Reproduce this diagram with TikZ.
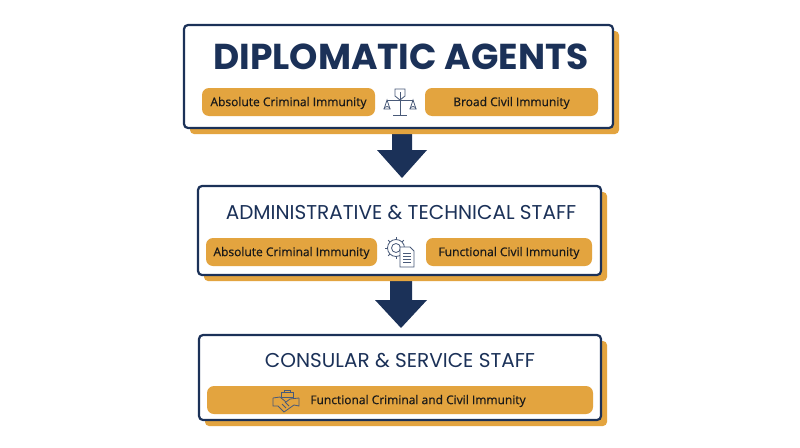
\documentclass[tikz,border=0pt]{standalone}
\usepackage{fontspec}
\usetikzlibrary{calc}
\setmainfont{Poppins}
\newfontfamily\pillfont{Open Sans}[FakeBold=0.6]
\begin{document}
\begin{tikzpicture}[x=1pt,y=-1pt,
  box/.style={draw=navycol,line width=2.2pt,fill=white,rounded corners=4pt},
  shadowbox/.style={fill=orangecol,rounded corners=4pt},
  pill/.style={fill=orangecol,rounded corners=7pt},
  pilltext/.style={font=\pillfont\fontsize{12}{14}\selectfont,text=black!90},
  subtitle/.style={font=\fontsize{20}{24}\selectfont,text=navycol},
  arr/.style={fill=navycol},
  icon/.style={draw=navycol!80,line width=0.8pt}]
\definecolor{navycol}{HTML}{1B3158}
\definecolor{orangecol}{HTML}{E3A43F}
\useasboundingbox (0,0) rectangle (800,447);
\fill[white] (0,0) rectangle (800,447);
% arrows
\fill[arr] (392,128) -- (412,128) -- (412,150) -- (427,150) -- (402,178) -- (377,150) -- (392,150) -- cycle;
\fill[arr] (390,275) -- (412,275) -- (412,300) -- (427,300) -- (401,328) -- (375,300) -- (390,300) -- cycle;
% box 1
\fill[shadowbox] (190,31) rectangle (619,134);
\draw[box] (184,25) rectangle (613,128);
\node[font=\bfseries\fontsize{36}{40}\selectfont,text=navycol] (t1) at (401,57) {DIPLOMATIC AGENTS};
\fill[pill] (202,88) rectangle (375,116);
\node[pilltext] (p1a) at (288.5,103) {Absolute Criminal Immunity};
\fill[pill] (425,88) rectangle (598,116);
\node[pilltext] (p1b) at (511.5,103) {Broad Civil Immunity};
% scales icon
\begin{scope}[icon]
\draw (400,92) -- (400,115); \draw (393,115) -- (407,115);
\draw (395,89) -- (405,89) -- (405,96) -- (400,100) -- (395,96) -- cycle;
\draw (387,100) -- (413,100);
\draw (387,100) -- (384,109) -- (390,109) -- cycle; \draw (384,109) arc (180:0:3 and -2.5);
\draw (413,100) -- (410,109) -- (416,109) -- cycle; \draw (410,109) arc (180:0:3 and -2.5);
\end{scope}
% box 2
\fill[shadowbox] (204,192) rectangle (607,281);
\draw[box] (198,186) rectangle (601,275);
\node[subtitle] (t2) at (401,213) {ADMINISTRATIVE \& TECHNICAL STAFF};
\fill[pill] (206,238) rectangle (377,266);
\node[pilltext] (p2a) at (291.5,253) {Absolute Criminal Immunity};
\fill[pill] (426,238) rectangle (592,266);
\node[pilltext] (p2b) at (509,253) {Functional Civil Immunity};
% gear + doc icon
\begin{scope}[icon]
\draw (396,248) circle (8.5); \draw (396,248) circle (4.5);
\foreach \a in {0,45,...,315} \draw ($(396,248)+(\a:8.5)$) -- ($(396,248)+(\a:11)$);
\fill[white,draw=navycol!80] (400,247) -- (410,247) -- (414,251) -- (414,267) -- (400,267) -- cycle;
\foreach \yy in {253,256,259,262} \draw (403,\yy) -- (411,\yy);
\end{scope}
% box 3
\fill[shadowbox] (205,341) rectangle (607,426);
\draw[box] (199,335) rectangle (601,420);
\node[subtitle] (t3) at (400,361) {CONSULAR \& SERVICE STAFF};
\fill[pill] (207,386) rectangle (593,414);
\node[pilltext] (p3) at (418,401) {Functional Criminal and Civil Immunity};
% handshake icon
\begin{scope}[icon]
\draw (281,392) rectangle (293,397); \draw (284,392) -- (284,390) -- (290,390) -- (290,392);
\draw (273,398) -- (280,397) -- (286,402) -- (290,399) -- (299,398);
\draw (273,398) -- (273,406) -- (278,406) -- (284,412) -- (294,405) -- (299,406) -- (299,398);
\draw (282,404) -- (286,408); \draw (285,402) -- (289,406);
\end{scope}
\end{tikzpicture}
\end{document}
